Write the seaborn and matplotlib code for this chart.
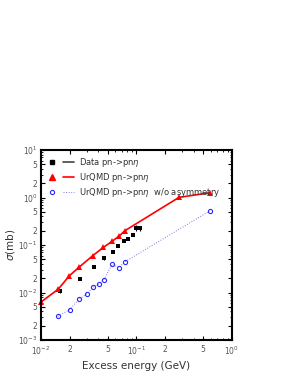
import numpy as np
import pandas as pd
import matplotlib
matplotlib.use("Agg")
import matplotlib.pyplot as plt
import seaborn as sns
from matplotlib.legend_handler import HandlerTuple
from matplotlib.lines import Line2D
from matplotlib.ticker import LogLocator, FuncFormatter

# excess energy (GeV) and cross sections (mb)
data_x = [0.016, 0.0258, 0.0362, 0.046, 0.0565, 0.0647, 0.0743, 0.0818, 0.0916, 0.100, 0.109]
data_y = [0.0107, 0.0197, 0.0352, 0.0525, 0.071, 0.094, 0.121, 0.136, 0.166, 0.23, 0.226]
data_err = [0.0008, 0.001, 0.002, 0.003, 0.004, 0.005, 0.006, 0.007, 0.009, 0.03, 0.03]

urqmd_x = [0.0100, 0.0152, 0.0198, 0.0250, 0.0348, 0.0451, 0.0556, 0.0660, 0.0755, 0.279, 0.583]
urqmd_y = [0.0063, 0.0118, 0.0225, 0.034, 0.0596, 0.0895, 0.120, 0.155, 0.200, 1.01, 1.26]

noasym_x = [0.015, 0.020, 0.025, 0.0302, 0.0354, 0.0403, 0.0455, 0.0556, 0.0653, 0.0755, 0.583]
noasym_y = [0.00313, 0.00438, 0.0072, 0.0094, 0.013, 0.015, 0.0188, 0.039, 0.0336, 0.0443, 0.52]

sns.set_theme(style="white")
plt.rcParams["font.family"] = ["DejaVu Sans"]

fig = plt.figure(figsize=(2.95, 3.82), dpi=100)
ax = fig.add_axes([0.139, 0.110, 0.647, 0.497])

df_u = pd.DataFrame({"x": urqmd_x, "y": urqmd_y})
df_n = pd.DataFrame({"x": noasym_x, "y": noasym_y})
df_d = pd.DataFrame({"x": data_x, "y": data_y})

sns.lineplot(data=df_n, x="x", y="y", ax=ax, color="#7777ee", lw=0.7,
             linestyle=":", marker="o", markersize=3, markerfacecolor="none",
             markeredgecolor="#2a2aff", markeredgewidth=0.8, sort=False)
sns.lineplot(data=df_u, x="x", y="y", ax=ax, color="red", lw=1.2,
             marker="^", markersize=4, markeredgewidth=0, sort=False,
             clip_on=False)
ax.errorbar(data_x, data_y, yerr=data_err, fmt="none", ecolor="black", elinewidth=0.8)
sns.scatterplot(data=df_d, x="x", y="y", ax=ax, color="black", marker="s",
                s=10, linewidth=0)

ax.set_xscale("log")
ax.set_yscale("log")
ax.set_xlim(0.01, 1)
ax.set_ylim(1e-3, 10)

def fmt(v, pos):
    e = np.log10(v)
    if abs(e - round(e)) < 1e-6:
        return r"$10^{%d}$" % round(e)
    m = v / 10 ** np.floor(e)
    m = int(round(m))
    return str(m) if m in (2, 5) else ""

for axis in (ax.xaxis, ax.yaxis):
    axis.set_major_locator(LogLocator(base=10, subs=(1.0, 2.0, 5.0), numticks=20))
    axis.set_minor_locator(LogLocator(base=10, subs=np.arange(2, 10), numticks=20))
    axis.set_major_formatter(FuncFormatter(fmt))
    axis.set_minor_formatter(FuncFormatter(lambda v, p: ""))

ax.tick_params(which="both", direction="in", bottom=True, left=True, top=True,
               right=True, labelsize=5.5, labelcolor="#555555", color="black")
ax.tick_params(axis="x", which="both", pad=3.5)
ax.tick_params(axis="y", which="both", pad=2.5)
ax.tick_params(which="major", length=3, width=0.8)
ax.tick_params(which="minor", length=1.5, width=0.6)
for s in ax.spines.values():
    s.set_linewidth(1.5)
    s.set_color("black")

ax.set_xlabel("Excess energy (GeV)", fontsize=7.5, color="#333333", labelpad=3)
ax.set_ylabel(r"$\sigma$(mb)", fontsize=7.5, color="#333333", labelpad=1)

h_data = (Line2D([], [], color="black", marker="s", markersize=3.5, ls="none"),
          Line2D([], [], color="#444444", lw=1.2))
h_urq = (Line2D([], [], color="red", marker="^", markersize=4, ls="none"),
         Line2D([], [], color="red", lw=1.2))
h_no = (Line2D([], [], color="#2a2aff", marker="o", markersize=3, markerfacecolor="none",
               markeredgewidth=0.8, ls="none"),
        Line2D([], [], color="#7777ee", lw=0.7, ls=":"))
leg = ax.legend([h_data, h_urq, h_no],
                [r"Data pn->pn$\eta$", r"UrQMD pn->pn$\eta$",
                 r"UrQMD pn->pn$\eta$  w/o asymmetry"],
                handler_map={tuple: HandlerTuple(ndivide=None, pad=0.6)},
                loc="upper left", fontsize=6, frameon=False, handlelength=3.2,
                handletextpad=0.6, labelspacing=0.25, borderaxespad=0.3)
for t in leg.get_texts():
    t.set_color("#333333")

fig.savefig("out.png", dpi=100)
